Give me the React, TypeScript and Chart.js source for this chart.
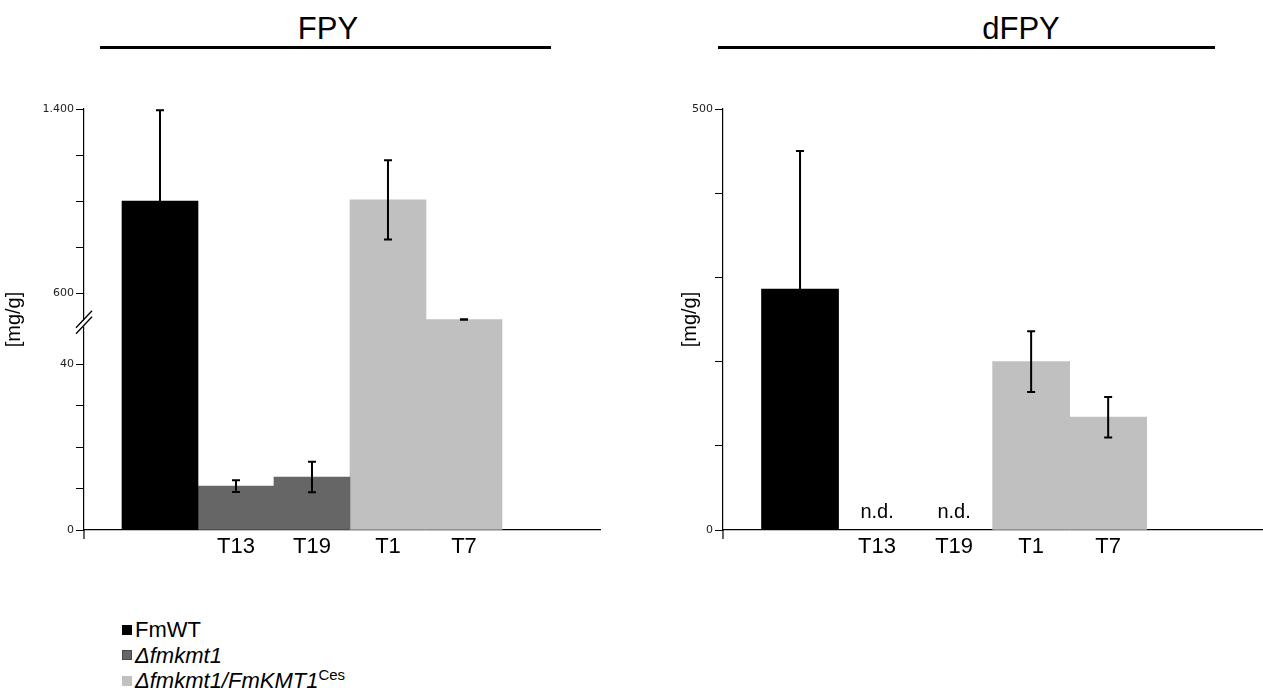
import React, { useEffect, useRef } from 'react';
import { Chart, registerables, LinearScale } from 'chart.js';

Chart.register(...registerables);

// ---------------- data ----------------
const panelTitles = ['FPY', 'dFPY'];
const categories = ['', 'T13', 'T19', 'T1', 'T7'];
const groupNames = ['FmWT', 'Δfmkmt1', 'Δfmkmt1/FmKMT1'];
const groupSuperscripts = ['', '', 'Ces'];
const groupItalic = [false, true, true];
const groupColors = ['#000000', '#666666', '#c0c0c0'];
const groupBorders = ['#000000', '#4a4a4a', '#c0c0c0'];
const groupOfCategory = [0, 1, 1, 2, 2];

const fpyValues = [1000, 10.6, 12.8, 1005, 485];
const fpyErrors = [395, 1.4, 3.7, 172, 1];
const fpyTickValues = [0, 10, 20, 30, 40, 600, 800, 1000, 1200, 1400];
const fpyTickLabels = ['0', '', '', '', '40', '600', '', '', '', '1.400'];

const dfpyValues = [286, null, null, 200, 134];
const dfpyErrors = [164, null, null, 36, 24];
const dfpyNotDetected = [false, true, true, false, false];
const dfpyTickValues = [0, 100, 200, 300, 400, 500];
const dfpyTickLabels = ['0', '', '', '', '', '500'];

const yAxisTitle = '[mg/g]';
const ndText = 'n.d.';

// ---------------- broken axis mapping ----------------
const BREAK_LOW = 50;
const BREAK_HIGH = 480;
const LOWER_K = 4.14;
const UPPER_K = 0.23;
const GAP = 2.1;
const FPY_MAX = 1400;

function toVirtual(v: number): number {
  const lowTop = BREAK_LOW * LOWER_K;
  const upBase = lowTop + GAP;
  if (v <= BREAK_LOW) return v * LOWER_K;
  if (v >= BREAK_HIGH) return upBase + (v - BREAK_HIGH) * UPPER_K;
  return lowTop + ((v - BREAK_LOW) / (BREAK_HIGH - BREAK_LOW)) * GAP;
}
function fromVirtual(p: number): number {
  const lowTop = BREAK_LOW * LOWER_K;
  const upBase = lowTop + GAP;
  if (p <= lowTop) return p / LOWER_K;
  if (p >= upBase) return BREAK_HIGH + (p - upBase) / UPPER_K;
  return BREAK_LOW + ((p - lowTop) / GAP) * (BREAK_HIGH - BREAK_LOW);
}

class BrokenLinearScale extends (LinearScale as any) {
  static id = 'brokenLinear';
  static defaults = (LinearScale as any).defaults;
  determineDataLimits() {
    this.min = 0;
    this.max = toVirtual(FPY_MAX);
  }
  buildTicks() {
    this.start = this.min;
    this.end = this.max;
    return fpyTickValues.map((v) => ({ value: v }));
  }
  getPixelForValue(value: any) {
    if (value === null || value === undefined || isNaN(value)) return NaN;
    return super.getPixelForValue(toVirtual(value));
  }
  getValueForPixel(pixel: number) {
    return fromVirtual(super.getValueForPixel(pixel));
  }
}
Chart.register(BrokenLinearScale as any);

// ---------------- plugins ----------------
const errorBarPlugin = {
  id: 'errorBars',
  afterDatasetsDraw(chart: any) {
    const ctx = chart.ctx;
    const xs = chart.scales.x;
    const ys = chart.scales.y;
    ctx.save();
    ctx.strokeStyle = '#000';
    ctx.lineWidth = 2;
    chart.data.datasets.forEach((ds: any) => {
      const errs = ds.errors;
      if (!errs) return;
      ds.data.forEach((pt: any, i: number) => {
        const e = errs[i];
        if (pt.y == null || e == null) return;
        const px = xs.getPixelForValue(pt.x);
        const top = ys.getPixelForValue(pt.y + e);
        const bot = ys.getPixelForValue(Math.max(0, pt.y - e));
        ctx.beginPath();
        ctx.moveTo(px, top);
        ctx.lineTo(px, bot);
        ctx.moveTo(px - 4, top);
        ctx.lineTo(px + 4, top);
        ctx.moveTo(px - 4, bot);
        ctx.lineTo(px + 4, bot);
        ctx.stroke();
      });
    });
    ctx.restore();
  },
};

const axisDecorPlugin = {
  id: 'axisDecor',
  afterDraw(chart: any, _args: any, opts: any) {
    const ctx = chart.ctx;
    const { left, bottom } = chart.chartArea;
    const ys = chart.scales.y;
    const xs = chart.scales.x;
    ctx.save();
    ctx.strokeStyle = '#000';
    ctx.lineWidth = 1.2;
    // y axis continues a little below the x axis
    ctx.beginPath();
    ctx.moveTo(left, bottom);
    ctx.lineTo(left, bottom + 9);
    ctx.stroke();
    // axis break marks
    if (opts && opts.breakValue != null) {
      const by = ys.getPixelForValue(opts.breakValue);
      ctx.fillStyle = '#fff';
      ctx.beginPath();
      ctx.moveTo(left - 7, by + 6);
      ctx.lineTo(left + 7, by - 9);
      ctx.lineTo(left + 7, by - 3);
      ctx.lineTo(left - 7, by + 12);
      ctx.closePath();
      ctx.fill();
      ctx.lineWidth = 1.3;
      ctx.beginPath();
      ctx.moveTo(left - 8, by + 6);
      ctx.lineTo(left + 8, by - 11);
      ctx.moveTo(left - 8, by + 12);
      ctx.lineTo(left + 8, by - 5);
      ctx.stroke();
    }
    // n.d. labels
    if (opts && opts.notDetected) {
      ctx.fillStyle = '#000';
      ctx.font = '20px "Liberation Sans", Arial, sans-serif';
      ctx.textAlign = 'center';
      ctx.textBaseline = 'alphabetic';
      opts.notDetected.forEach((nd: boolean, i: number) => {
        if (!nd) return;
        ctx.fillText(ndText, xs.getPixelForValue(i + 1), bottom - 12);
      });
    }
    ctx.restore();
  },
};

// ---------------- chart builders ----------------
function makeDatasets(values: (number | null)[], errors: (number | null)[]) {
  return groupNames.map((name, g) => {
    const idx = categories.map((_, i) => i).filter((i) => groupOfCategory[i] === g);
    return {
      label: name,
      data: idx.map((i) => ({ x: i + 1, y: values[i] })),
      errors: idx.map((i) => errors[i]),
      backgroundColor: groupColors[g],
      borderColor: groupBorders[g],
      borderWidth: 0,
      grouped: false,
      categoryPercentage: 1,
      barPercentage: 1,
    };
  });
}

const tickFont = { family: '"DejaVu Sans", Verdana, sans-serif', size: 11 };
const catFont = { family: '"Liberation Sans", Arial, sans-serif', size: 22 };
const titleFont = { family: '"Liberation Sans", Arial, sans-serif', size: 20 };

function xScaleOptions(max: number) {
  return {
    type: 'linear',
    min: 0,
    max,
    offset: false,
    grid: { display: false, drawTicks: false, offset: false },
    border: { display: true, color: '#000', width: 1.2 },
    afterBuildTicks: (s: any) => {
      s.ticks = categories.map((_, i) => ({ value: i + 1 }));
    },
    afterFit: (s: any) => {
      s.height = 70;
    },
    ticks: {
      autoSkip: false,
      maxRotation: 0,
      minRotation: 0,
      padding: 4,
      color: '#000',
      font: catFont,
      callback: (v: any) => categories[Math.round(v) - 1] ?? '',
    },
  };
}

function yCommon(width: number) {
  return {
    grid: { display: true, drawOnChartArea: false, drawTicks: true, tickLength: 8, color: '#000', lineWidth: 1 },
    border: { display: true, color: '#000', width: 1.2 },
    afterFit: (s: any) => {
      s.width = width;
    },
    title: {
      display: true,
      text: yAxisTitle,
      color: '#000',
      font: titleFont,
      padding: { top: 2, bottom: 0 },
    },
  };
}

function BarPanel(props: { kind: 'fpy' | 'dfpy'; left: number; width: number }) {
  const ref = useRef<HTMLCanvasElement>(null);
  useEffect(() => {
    if (!ref.current) return;
    const isFpy = props.kind === 'fpy';
    const yAxis: any = isFpy
      ? {
          type: 'brokenLinear',
          ...yCommon(84),
          ticks: {
            padding: 2,
            color: '#222',
            font: tickFont,
            autoSkip: false,
            callback: (v: any) => {
              const k = fpyTickValues.indexOf(v);
              return k >= 0 ? fpyTickLabels[k] : '';
            },
          },
        }
      : {
          type: 'linear',
          min: 0,
          max: 500,
          ...yCommon(47),
          afterBuildTicks: (s: any) => {
            s.ticks = dfpyTickValues.map((v) => ({ value: v }));
          },
          ticks: {
            padding: 2,
            color: '#222',
            font: tickFont,
            autoSkip: false,
            callback: (v: any) => {
              const k = dfpyTickValues.indexOf(v);
              return k >= 0 ? dfpyTickLabels[k] : '';
            },
          },
        };
    const chart = new Chart(ref.current, {
      type: 'bar',
      data: {
        datasets: isFpy ? makeDatasets(fpyValues, fpyErrors) : makeDatasets(dfpyValues, dfpyErrors),
      } as any,
      options: {
        animation: false,
        responsive: false,
        maintainAspectRatio: false,
        layout: { padding: { top: 109, right: isFpy ? 31 : 0, left: 0, bottom: 0 } },
        plugins: {
          legend: { display: false },
          tooltip: { enabled: false },
          axisDecor: isFpy
            ? { breakValue: (BREAK_LOW + BREAK_HIGH) / 2 }
            : { notDetected: dfpyNotDetected },
        } as any,
        scales: {
          x: xScaleOptions(isFpy ? 6.79 : 7.01) as any,
          y: yAxis,
        },
      } as any,
      plugins: [errorBarPlugin, axisDecorPlugin],
    });
    return () => chart.destroy();
  }, [props.kind]);
  return (
    <canvas
      ref={ref}
      width={props.width}
      height={600}
      style={{ position: 'absolute', left: props.left, top: 0, width: props.width, height: 600 }}
    />
  );
}

export default function App() {
  const font = '"Liberation Sans", Arial, sans-serif';
  return (
    <div
      style={{
        position: 'fixed',
        left: 0,
        top: 0,
        width: 1263,
        height: 700,
        background: '#fff',
        fontFamily: font,
        overflow: 'hidden',
      }}
    >
      {/* panel titles */}
      <div style={{ position: 'absolute', left: 228, top: 13, width: 200, textAlign: 'center', fontSize: 31, lineHeight: '31px' }}>
        {panelTitles[0]}
      </div>
      <div style={{ position: 'absolute', left: 100, top: 46, width: 451, height: 3, background: '#000' }} />
      <div style={{ position: 'absolute', left: 921, top: 13, width: 200, textAlign: 'center', fontSize: 31, lineHeight: '31px' }}>
        {panelTitles[1]}
      </div>
      <div style={{ position: 'absolute', left: 718, top: 46, width: 497, height: 3, background: '#000' }} />

      <BarPanel kind="fpy" left={0} width={631} />
      <BarPanel kind="dfpy" left={676} width={587} />

      {/* legend */}
      <div style={{ position: 'absolute', left: 122, top: 617, fontSize: 22, lineHeight: '25.5px' }}>
        {groupNames.map((name, g) => (
          <div key={name} style={{ display: 'flex', alignItems: 'center', height: 25.5, whiteSpace: 'nowrap' }}>
            <span
              style={{
                display: 'inline-block',
                width: 10,
                height: 10,
                boxSizing: 'border-box',
                background: groupColors[g],
                border: `1px solid ${groupBorders[g]}`,
                marginRight: 3,
              }}
            />
            <span style={{ fontStyle: groupItalic[g] ? 'italic' : 'normal' }}>
              {name}
              {groupSuperscripts[g] ? (
                <sup style={{ fontSize: 15, fontStyle: 'normal', lineHeight: 0, verticalAlign: 8 }}>{groupSuperscripts[g]}</sup>
              ) : null}
            </span>
          </div>
        ))}
      </div>
    </div>
  );
}
